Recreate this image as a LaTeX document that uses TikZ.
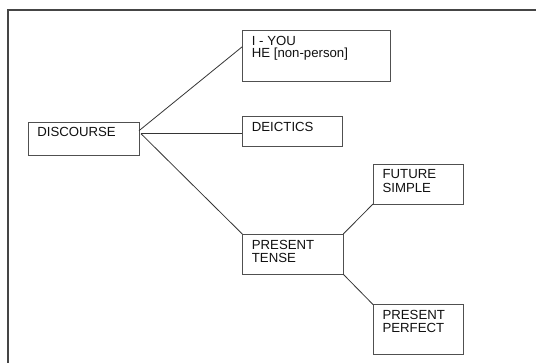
\documentclass[tikz,border=0pt]{standalone}
\usepackage{fontspec}
\setmainfont{Liberation Sans}
\definecolor{edge}{HTML}{505050}
\definecolor{ink}{HTML}{111111}
\definecolor{framecol}{HTML}{454545}
\tikzset{
  box/.style={draw=edge, line width=0.9pt, anchor=north west, inner sep=0pt, outer sep=0pt, fill=white},
  inlabel/.style={anchor=north west, inner sep=0pt, outer sep=0pt, align=left, text=ink,
    font={\fontsize{13.2pt}{13.2pt}\selectfont}, xshift=9.6pt, yshift=-5.8pt},
  conn/.style={draw=ink!85, line width=0.8pt},
  framestyle/.style={draw=framecol, line width=1.8pt}
}
\begin{document}
\begin{tikzpicture}[x=1pt,y=-1pt]
\useasboundingbox (0,0) rectangle (536,362);
\clip (0,0) rectangle (536,362);
\fill[white] (0,0) rectangle (536,362);
\draw[framestyle] (7.7,380) -- (7.7,9.7) -- (560,9.7);

\node[box, minimum width=110.7pt, minimum height=32.3pt,
  label={[inlabel, xshift=-0.6pt, yshift=1.2pt]north west:DISCOURSE}] (dis) at (28.3,122.7) {};
\node[box, minimum width=147.7pt, minimum height=51pt,
  label={[inlabel, yshift=-0.6pt, font={\fontsize{13.2pt}{11.8pt}\selectfont}]north west:{I - YOU\\HE [non-person]}}] (you) at (242.3,30) {};
\node[box, minimum width=100.4pt, minimum height=30pt,
  label={[inlabel]north west:DEICTICS}] (dei) at (242.3,116) {};
\node[box, minimum width=90.3pt, minimum height=40pt,
  label={[inlabel]north west:{FUTURE\\SIMPLE}}] (fs) at (373,164) {};
\node[box, minimum width=101pt, minimum height=40.3pt,
  label={[inlabel]north west:{PRESENT\\TENSE}}] (pt) at (242.3,234) {};
\node[box, minimum width=90.3pt, minimum height=49.5pt,
  label={[inlabel, yshift=0.3pt]north west:{PRESENT\\PERFECT}}] (pp) at (373,304.5) {};

\draw[conn] ([yshift=-8pt]dis.north east) -- ([yshift=-16.7pt]you.north west);
\draw[conn] ([xshift=2pt,yshift=-11pt]dis.north east) -- ([yshift=-17.7pt]dei.north west);
\draw[conn] ([xshift=2pt,yshift=-11pt]dis.north east) -- (pt.north west);
\draw[conn] (pt.north east) -- (fs.south west);
\draw[conn] (pt.south east) -- (pp.north west);
\end{tikzpicture}
\end{document}
